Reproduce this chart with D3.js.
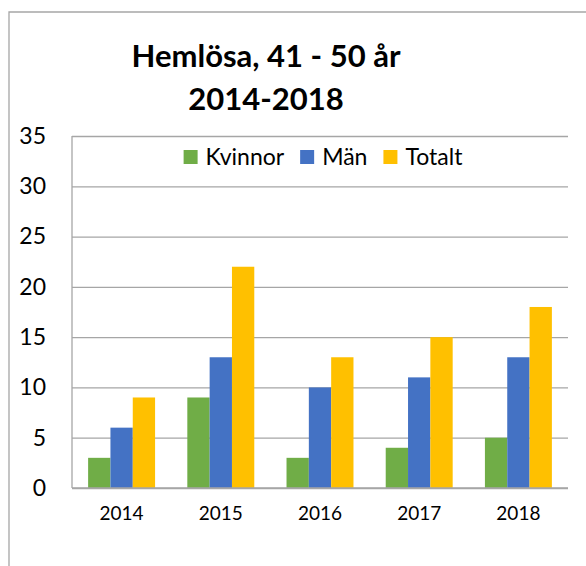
<!DOCTYPE html>
<html>
<head>
<meta charset="utf-8">
<script src="https://cdn.jsdelivr.net/npm/d3@7"></script>
<style>
  body { margin: 0; background: white; }
  text { font-family: Lato, "Open Sans", sans-serif; fill: #000; }
</style>
</head>
<body>
<div id="container"></div>
<script>
// chart values
const years = ["2014", "2015", "2016", "2017", "2018"]
const series = ["Kvinnor", "Män", "Totalt"]
const kvinnor = [3, 9, 3, 4, 5]
const man = [6, 13, 10, 11, 13]
const totalt = [9, 22, 13, 15, 18]
const yTicks = [0, 5, 10, 15, 20, 25, 30, 35]
const titleLines = ["Hemlösa, 41 - 50 år", "2014-2018"]

const colors = ["#70AD47", "#4472C4", "#FFC000"]
const values = [kvinnor, man, totalt]

const w = 586
const h = 566
const plot = { left: 72, right: 568, top: 136, bottom: 488 }

const svg = d3.select("#container")
    .append("svg")
    .attr("width", w)
    .attr("height", h)

// outer chart border (cut off at right and bottom)
svg.append("path")
    .attr("d", `M9,${h} V12 H${w}`)
    .attr("fill", "none")
    .attr("stroke", "#A6A6A6")
    .attr("stroke-width", 1.3)

svg.selectAll(".title")
    .data(titleLines)
    .enter()
    .append("text")
    .attr("class", "title")
    .attr("x", 266)
    .attr("y", (d, i) => 67 + i * 43)
    .attr("text-anchor", "middle")
    .style("font-size", "31px")
    .style("font-weight", "bold")
    .text((d) => d)

const xScale = d3.scaleBand()
    .domain(years)
    .range([plot.left, plot.right])
    .paddingInner(0.325)
    .paddingOuter(0.1625)
const xSub = d3.scaleBand()
    .domain(series)
    .range([0, xScale.bandwidth()])
const yScale = d3.scaleLinear()
    .domain([0, 35])
    .range([plot.bottom, plot.top])

// gridlines
const grid = svg.append("g")
    .attr("transform", `translate(${plot.left}, 0)`)
    .call(d3.axisLeft(yScale).tickValues(yTicks).tickSize(-(plot.right - plot.left)).tickFormat(""))
grid.select(".domain").remove()
grid.selectAll("line").attr("stroke", "#A6A6A6").attr("stroke-width", 1.3)

// left axis line
svg.append("line")
    .attr("x1", plot.left).attr("x2", plot.left)
    .attr("y1", plot.top).attr("y2", plot.bottom)
    .attr("stroke", "#A6A6A6")
    .attr("stroke-width", 1.3)

// bars
const groups = svg.selectAll(".year")
    .data(years)
    .enter()
    .append("g")
    .attr("class", "year")
    .attr("transform", (d) => `translate(${xScale(d)}, 0)`)
groups.selectAll("rect")
    .data((d, i) => series.map((s, j) => ({ s: s, v: values[j][i], c: colors[j] })))
    .enter()
    .append("rect")
    .attr("x", (d) => xSub(d.s))
    .attr("width", xSub.bandwidth())
    .attr("y", (d) => yScale(d.v))
    .attr("height", (d) => yScale(0) - yScale(d.v))
    .attr("fill", (d) => d.c)

// baseline over bars
svg.append("line")
    .attr("x1", plot.left).attr("x2", plot.right)
    .attr("y1", yScale(0)).attr("y2", yScale(0))
    .attr("stroke", "#A6A6A6")
    .attr("stroke-width", 1.3)

// y labels
const yAxis = svg.append("g")
    .attr("transform", `translate(${plot.left}, 0)`)
    .call(d3.axisLeft(yScale).tickValues(yTicks).tickSize(0).tickPadding(26))
yAxis.select(".domain").remove()
yAxis.selectAll("text")
    .style("font-size", "23px")
    .style("font-family", "Lato, sans-serif")
    .attr("fill", "#000")

// x labels
const xAxis = svg.append("g")
    .attr("transform", `translate(0, ${plot.bottom})`)
    .call(d3.axisBottom(xScale).tickSize(0).tickPadding(19))
xAxis.select(".domain").remove()
xAxis.selectAll("text")
    .style("font-size", "19px")
    .style("font-family", "Lato, sans-serif")
    .attr("fill", "#000")

// legend
const legend = svg.append("g")
const items = legend.selectAll("g")
    .data(series)
    .enter()
    .append("g")
items.append("rect")
    .attr("width", 14)
    .attr("height", 14)
    .attr("y", -15)
    .attr("fill", (d, i) => colors[i])
items.append("text")
    .attr("x", 22)
    .attr("y", 0)
    .style("font-size", "23px")
    .text((d) => d)
let offset = 0
items.each(function () {
    d3.select(this).attr("transform", `translate(${offset}, 0)`)
    offset += 22 + this.querySelector("text").getComputedTextLength() + 16
})
offset -= 16
legend.attr("transform", `translate(${(plot.left + plot.right) / 2 + 3 - offset / 2}, 165)`)
</script>
</body>
</html>
